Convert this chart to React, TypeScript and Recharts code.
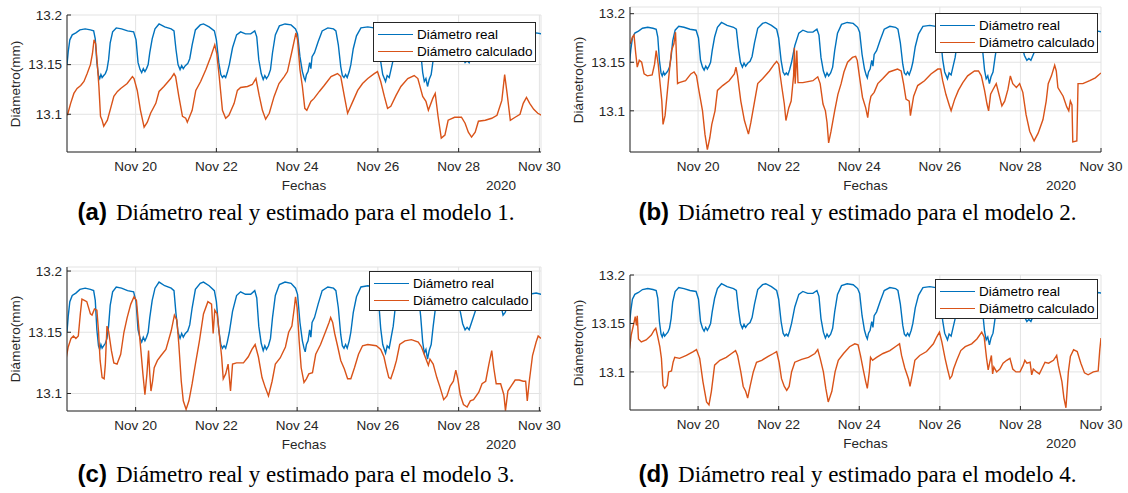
import React from "react";
import { LineChart, Line, XAxis, YAxis, CartesianGrid } from "recharts";

type Pt = [number, number];

// [día de noviembre 2020, diámetro en mm]
const diametroReal: Pt[] = [
  [18.30, 13.150], [18.33, 13.163], [18.37, 13.175], [18.43, 13.180], [18.52, 13.182], [18.62, 13.185],
  [18.75, 13.186], [18.88, 13.185], [18.96, 13.184], [19.00, 13.176], [19.04, 13.152], [19.08, 13.139],
  [19.11, 13.136], [19.14, 13.140], [19.17, 13.137], [19.21, 13.139], [19.25, 13.141], [19.29, 13.145],
  [19.33, 13.155], [19.37, 13.172], [19.43, 13.183], [19.52, 13.187], [19.65, 13.186], [19.80, 13.184],
  [19.95, 13.183], [20.01, 13.175], [20.06, 13.152], [20.11, 13.145], [20.15, 13.142], [20.19, 13.146],
  [20.23, 13.143], [20.27, 13.146], [20.31, 13.150], [20.35, 13.162], [20.41, 13.176], [20.48, 13.186],
  [20.58, 13.191], [20.72, 13.188], [20.88, 13.186], [20.95, 13.184], [21.00, 13.165], [21.05, 13.150],
  [21.10, 13.145], [21.14, 13.149], [21.18, 13.146], [21.23, 13.149], [21.29, 13.151], [21.34, 13.156],
  [21.40, 13.170], [21.48, 13.185], [21.60, 13.190], [21.68, 13.191], [21.82, 13.188], [21.95, 13.184],
  [22.00, 13.175], [22.06, 13.152], [22.11, 13.140], [22.15, 13.137], [22.19, 13.139], [22.23, 13.137],
  [22.27, 13.142], [22.32, 13.150], [22.40, 13.167], [22.50, 13.180], [22.60, 13.183], [22.72, 13.181],
  [22.85, 13.181], [22.95, 13.184], [23.00, 13.178], [23.05, 13.155], [23.11, 13.141], [23.16, 13.135],
  [23.20, 13.139], [23.24, 13.136], [23.29, 13.139], [23.34, 13.145], [23.39, 13.162], [23.46, 13.180],
  [23.56, 13.189], [23.70, 13.191], [23.85, 13.190], [23.96, 13.186], [24.01, 13.181], [24.07, 13.158],
  [24.13, 13.143], [24.17, 13.137], [24.20, 13.134], [24.23, 13.140], [24.27, 13.143], [24.31, 13.152],
  [24.34, 13.146], [24.37, 13.158], [24.43, 13.162], [24.52, 13.173], [24.62, 13.184], [24.76, 13.187],
  [24.90, 13.186], [24.96, 13.184], [25.02, 13.170], [25.08, 13.148], [25.12, 13.139], [25.16, 13.137],
  [25.20, 13.140], [25.24, 13.137], [25.29, 13.143], [25.33, 13.150], [25.39, 13.166], [25.47, 13.179],
  [25.58, 13.187], [25.75, 13.188], [25.90, 13.187], [25.98, 13.185], [26.02, 13.175], [26.07, 13.153],
  [26.12, 13.140], [26.16, 13.136], [26.19, 13.133], [26.23, 13.139], [26.28, 13.137], [26.33, 13.146],
  [26.38, 13.155], [26.43, 13.170], [26.52, 13.184], [26.70, 13.187], [26.90, 13.186], [27.00, 13.182],
  [27.06, 13.163], [27.11, 13.142], [27.15, 13.133], [27.19, 13.136], [27.23, 13.128], [27.27, 13.135],
  [27.32, 13.140], [27.37, 13.155], [27.43, 13.171], [27.55, 13.185], [27.80, 13.188], [27.97, 13.186],
  [28.04, 13.167], [28.10, 13.157], [28.16, 13.152], [28.21, 13.154], [28.26, 13.152], [28.33, 13.159],
  [28.42, 13.168], [28.55, 13.176], [28.75, 13.181], [28.98, 13.180], [29.05, 13.172], [29.10, 13.164],
  [29.15, 13.166], [29.22, 13.172], [29.35, 13.177], [29.55, 13.180], [29.75, 13.181], [29.92, 13.182],
  [30.05, 13.181],
];

const calculadoModelo1: Pt[] = [
  [18.31, 13.099], [18.39, 13.111], [18.47, 13.121], [18.55, 13.126], [18.64, 13.129], [18.72, 13.133],
  [18.80, 13.141], [18.88, 13.150], [18.93, 13.161], [18.97, 13.175], [19.01, 13.171], [19.05, 13.151],
  [19.09, 13.128], [19.13, 13.098], [19.17, 13.094], [19.21, 13.088], [19.30, 13.094], [19.38, 13.106],
  [19.46, 13.118], [19.55, 13.123], [19.63, 13.126], [19.79, 13.131], [19.92, 13.138], [19.96, 13.136],
  [20.04, 13.124], [20.12, 13.104], [20.21, 13.087], [20.29, 13.092], [20.37, 13.101], [20.50, 13.111],
  [20.58, 13.123], [20.70, 13.128], [20.87, 13.136], [20.95, 13.141], [20.99, 13.138], [21.07, 13.118],
  [21.16, 13.098], [21.24, 13.096], [21.28, 13.092], [21.40, 13.104], [21.49, 13.124], [21.61, 13.133],
  [21.74, 13.145], [21.86, 13.158], [21.96, 13.170], [22.01, 13.161], [22.07, 13.138], [22.15, 13.104],
  [22.23, 13.096], [22.31, 13.099], [22.44, 13.111], [22.52, 13.124], [22.60, 13.127], [22.77, 13.128],
  [22.89, 13.130], [22.98, 13.136], [23.06, 13.119], [23.14, 13.104], [23.22, 13.095], [23.31, 13.101],
  [23.43, 13.118], [23.55, 13.131], [23.68, 13.138], [23.76, 13.143], [23.88, 13.165], [23.97, 13.182],
  [24.01, 13.175], [24.07, 13.145], [24.13, 13.128], [24.19, 13.106], [24.24, 13.104], [24.34, 13.113],
  [24.42, 13.116], [24.55, 13.123], [24.67, 13.129], [24.84, 13.138], [25.00, 13.141], [25.08, 13.138],
  [25.17, 13.118], [25.25, 13.101], [25.38, 13.113], [25.50, 13.124], [25.62, 13.131], [25.75, 13.136],
  [25.91, 13.141], [25.99, 13.143], [26.07, 13.133], [26.16, 13.118], [26.24, 13.106], [26.32, 13.108],
  [26.45, 13.119], [26.57, 13.128], [26.74, 13.136], [26.90, 13.139], [26.99, 13.136], [27.11, 13.118],
  [27.19, 13.113], [27.25, 13.104], [27.36, 13.116], [27.42, 13.121], [27.49, 13.098], [27.57, 13.076],
  [27.66, 13.079], [27.74, 13.094], [27.90, 13.097], [28.07, 13.097], [28.16, 13.091], [28.24, 13.082],
  [28.32, 13.077], [28.41, 13.082], [28.49, 13.093], [28.66, 13.094], [28.82, 13.096], [28.95, 13.099],
  [29.07, 13.114], [29.14, 13.140], [29.20, 13.121], [29.28, 13.094], [29.40, 13.097], [29.52, 13.100],
  [29.60, 13.111], [29.68, 13.117], [29.76, 13.111], [29.86, 13.105], [29.96, 13.101], [30.05, 13.099],
];

const calculadoModelo2: Pt[] = [
  [18.32, 13.169], [18.37, 13.176], [18.41, 13.178], [18.45, 13.160], [18.49, 13.145], [18.54, 13.152],
  [18.60, 13.150], [18.66, 13.138], [18.74, 13.136], [18.86, 13.137], [18.92, 13.148], [18.96, 13.162],
  [19.01, 13.148], [19.05, 13.131], [19.10, 13.110], [19.13, 13.086], [19.18, 13.095], [19.24, 13.121],
  [19.28, 13.138], [19.34, 13.162], [19.40, 13.169], [19.44, 13.181], [19.49, 13.128], [19.53, 13.129],
  [19.69, 13.131], [19.82, 13.138], [19.90, 13.140], [19.96, 13.136], [20.02, 13.121], [20.11, 13.100],
  [20.17, 13.076], [20.23, 13.060], [20.29, 13.072], [20.34, 13.086], [20.42, 13.100], [20.48, 13.121],
  [20.61, 13.126], [20.77, 13.131], [20.90, 13.138], [20.94, 13.145], [20.98, 13.136], [21.06, 13.110],
  [21.15, 13.090], [21.20, 13.083], [21.25, 13.076], [21.31, 13.088], [21.39, 13.107], [21.48, 13.128],
  [21.60, 13.133], [21.77, 13.141], [21.89, 13.148], [21.95, 13.151], [22.00, 13.148], [22.08, 13.124],
  [22.14, 13.107], [22.18, 13.090], [22.25, 13.103], [22.31, 13.110], [22.37, 13.136], [22.39, 13.165],
  [22.41, 13.128], [22.45, 13.162], [22.48, 13.129], [22.60, 13.129], [22.85, 13.131], [22.97, 13.135],
  [23.03, 13.128], [23.10, 13.107], [23.16, 13.100], [23.20, 13.088], [23.24, 13.067], [23.30, 13.079],
  [23.39, 13.100], [23.47, 13.117], [23.55, 13.128], [23.62, 13.140], [23.71, 13.150], [23.83, 13.155],
  [23.91, 13.156], [23.95, 13.152], [24.02, 13.131], [24.08, 13.114], [24.16, 13.103], [24.21, 13.093],
  [24.25, 13.107], [24.29, 13.115], [24.37, 13.119], [24.46, 13.128], [24.58, 13.133], [24.74, 13.140],
  [24.95, 13.143], [25.04, 13.141], [25.10, 13.128], [25.16, 13.112], [25.24, 13.110], [25.27, 13.095],
  [25.35, 13.115], [25.45, 13.126], [25.62, 13.131], [25.78, 13.138], [25.95, 13.143], [26.02, 13.143],
  [26.07, 13.131], [26.15, 13.117], [26.24, 13.105], [26.28, 13.100], [26.37, 13.112], [26.46, 13.121],
  [26.57, 13.129], [26.69, 13.136], [26.86, 13.141], [26.96, 13.141], [27.03, 13.136], [27.11, 13.121],
  [27.17, 13.107], [27.21, 13.100], [27.26, 13.117], [27.32, 13.122], [27.40, 13.128], [27.48, 13.115],
  [27.54, 13.105], [27.61, 13.110], [27.69, 13.122], [27.75, 13.136], [27.81, 13.128], [27.90, 13.124],
  [27.98, 13.128], [28.06, 13.119], [28.14, 13.096], [28.23, 13.079], [28.34, 13.069], [28.44, 13.077],
  [28.56, 13.091], [28.64, 13.110], [28.69, 13.128], [28.77, 13.136], [28.85, 13.147], [28.89, 13.141],
  [28.93, 13.124], [29.06, 13.115], [29.15, 13.104], [29.20, 13.100], [29.24, 13.110], [29.28, 13.106],
  [29.30, 13.068], [29.40, 13.069], [29.43, 13.128], [29.55, 13.128], [29.72, 13.131], [29.86, 13.134],
  [30.00, 13.139],
];

const calculadoModelo3: Pt[] = [
  [18.27, 13.127], [18.33, 13.138], [18.40, 13.145], [18.46, 13.147], [18.52, 13.145], [18.58, 13.147],
  [18.63, 13.165], [18.67, 13.177], [18.73, 13.176], [18.79, 13.175], [18.88, 13.165], [18.92, 13.164],
  [18.98, 13.169], [19.04, 13.168], [19.08, 13.151], [19.12, 13.127], [19.17, 13.113], [19.22, 13.112],
  [19.25, 13.124], [19.29, 13.155], [19.33, 13.151], [19.40, 13.135], [19.46, 13.125], [19.54, 13.124],
  [19.63, 13.132], [19.71, 13.150], [19.79, 13.162], [19.88, 13.173], [19.96, 13.179], [20.02, 13.176],
  [20.07, 13.157], [20.13, 13.135], [20.18, 13.116], [20.23, 13.099], [20.28, 13.116], [20.32, 13.135],
  [20.35, 13.116], [20.38, 13.102], [20.42, 13.110], [20.46, 13.121], [20.54, 13.127], [20.63, 13.131],
  [20.75, 13.136], [20.88, 13.151], [20.96, 13.164], [21.02, 13.160], [21.07, 13.140], [21.13, 13.110],
  [21.18, 13.094], [21.25, 13.087], [21.32, 13.094], [21.40, 13.108], [21.48, 13.124], [21.58, 13.143],
  [21.68, 13.165], [21.79, 13.175], [21.88, 13.173], [21.92, 13.149], [21.96, 13.168], [22.02, 13.165],
  [22.07, 13.149], [22.13, 13.130], [22.17, 13.112], [22.23, 13.116], [22.29, 13.124], [22.35, 13.102],
  [22.40, 13.124], [22.50, 13.125], [22.67, 13.125], [22.79, 13.130], [22.88, 13.136], [22.96, 13.140],
  [23.04, 13.130], [23.13, 13.113], [23.21, 13.105], [23.29, 13.098], [23.38, 13.110], [23.46, 13.124],
  [23.58, 13.129], [23.71, 13.138], [23.79, 13.150], [23.87, 13.155], [23.93, 13.170], [23.96, 13.179],
  [24.00, 13.170], [24.05, 13.143], [24.10, 13.121], [24.17, 13.109], [24.23, 13.112], [24.29, 13.116],
  [24.38, 13.117], [24.46, 13.132], [24.58, 13.140], [24.71, 13.151], [24.79, 13.158], [24.83, 13.162],
  [24.88, 13.158], [24.93, 13.149], [25.00, 13.139], [25.08, 13.127], [25.17, 13.120], [25.25, 13.112],
  [25.33, 13.112], [25.42, 13.121], [25.52, 13.132], [25.62, 13.139], [25.75, 13.140], [25.96, 13.139],
  [26.07, 13.136], [26.15, 13.130], [26.21, 13.121], [26.27, 13.113], [26.32, 13.112], [26.40, 13.120],
  [26.46, 13.127], [26.54, 13.140], [26.67, 13.143], [26.83, 13.144], [27.00, 13.142], [27.08, 13.138],
  [27.17, 13.130], [27.25, 13.123], [27.29, 13.128], [27.37, 13.124], [27.46, 13.113], [27.54, 13.105],
  [27.63, 13.095], [27.71, 13.098], [27.79, 13.106], [27.87, 13.110], [27.93, 13.119], [27.98, 13.112],
  [28.04, 13.099], [28.12, 13.091], [28.21, 13.089], [28.29, 13.094], [28.37, 13.095], [28.50, 13.101],
  [28.58, 13.108], [28.67, 13.110], [28.75, 13.124], [28.82, 13.135], [28.87, 13.121], [28.93, 13.108],
  [29.04, 13.108], [29.12, 13.099], [29.16, 13.086], [29.22, 13.102], [29.30, 13.106], [29.40, 13.111],
  [29.50, 13.111], [29.60, 13.110], [29.66, 13.110], [29.70, 13.094], [29.75, 13.110], [29.83, 13.131],
  [29.92, 13.142], [29.97, 13.147], [30.04, 13.145],
];

const calculadoModelo4: Pt[] = [
  [18.30, 13.124], [18.34, 13.138], [18.41, 13.151], [18.44, 13.157], [18.47, 13.148], [18.49, 13.158],
  [18.52, 13.134], [18.59, 13.131], [18.71, 13.133], [18.84, 13.138], [18.91, 13.143], [18.95, 13.145],
  [18.99, 13.138], [19.05, 13.126], [19.09, 13.114], [19.13, 13.086], [19.17, 13.083], [19.23, 13.086],
  [19.27, 13.100], [19.34, 13.101], [19.38, 13.110], [19.42, 13.115], [19.54, 13.114], [19.71, 13.117],
  [19.88, 13.121], [19.96, 13.123], [20.04, 13.114], [20.12, 13.090], [20.21, 13.069], [20.27, 13.066],
  [20.33, 13.080], [20.41, 13.107], [20.54, 13.112], [20.70, 13.115], [20.83, 13.119], [20.93, 13.122],
  [20.98, 13.117], [21.06, 13.100], [21.12, 13.085], [21.18, 13.080], [21.23, 13.073], [21.29, 13.085],
  [21.37, 13.100], [21.45, 13.110], [21.58, 13.112], [21.74, 13.116], [21.87, 13.119], [21.95, 13.121],
  [22.01, 13.110], [22.07, 13.093], [22.14, 13.085], [22.20, 13.081], [22.26, 13.085], [22.32, 13.100],
  [22.40, 13.110], [22.57, 13.113], [22.74, 13.115], [22.90, 13.119], [22.97, 13.123], [23.03, 13.114],
  [23.11, 13.100], [23.17, 13.083], [23.23, 13.069], [23.32, 13.080], [23.40, 13.100], [23.48, 13.112],
  [23.61, 13.119], [23.76, 13.126], [23.89, 13.129], [23.97, 13.128], [24.03, 13.117], [24.10, 13.102],
  [24.16, 13.090], [24.20, 13.083], [24.25, 13.100], [24.28, 13.115], [24.33, 13.112], [24.43, 13.115],
  [24.59, 13.119], [24.76, 13.122], [24.93, 13.127], [25.00, 13.129], [25.05, 13.117], [25.13, 13.104],
  [25.22, 13.093], [25.26, 13.085], [25.33, 13.100], [25.38, 13.112], [25.50, 13.117], [25.67, 13.121],
  [25.84, 13.129], [25.92, 13.136], [25.99, 13.141], [26.05, 13.131], [26.13, 13.114], [26.19, 13.103],
  [26.25, 13.093], [26.30, 13.096], [26.34, 13.103], [26.42, 13.112], [26.52, 13.122], [26.63, 13.126],
  [26.79, 13.129], [26.92, 13.134], [27.04, 13.141], [27.10, 13.136], [27.16, 13.114], [27.20, 13.102],
  [27.24, 13.110], [27.28, 13.117], [27.31, 13.098], [27.34, 13.105], [27.41, 13.100], [27.49, 13.103],
  [27.57, 13.109], [27.66, 13.112], [27.74, 13.114], [27.81, 13.103], [27.89, 13.100], [27.99, 13.100],
  [28.07, 13.107], [28.11, 13.112], [28.16, 13.109], [28.24, 13.110], [28.28, 13.097], [28.32, 13.103],
  [28.40, 13.100], [28.47, 13.098], [28.53, 13.103], [28.61, 13.110], [28.70, 13.109], [28.82, 13.112],
  [28.90, 13.117], [28.94, 13.107], [29.03, 13.090], [29.08, 13.073], [29.13, 13.063], [29.19, 13.100],
  [29.24, 13.116], [29.32, 13.123], [29.41, 13.121], [29.50, 13.109], [29.59, 13.099], [29.68, 13.097],
  [29.81, 13.100], [29.93, 13.101], [29.97, 13.123], [30.00, 13.135],
];

const xTicks = [20, 22, 24, 26, 28, 30];
const yTicks = [13.1, 13.15, 13.2];
const serieNames = ["Diámetro real", "Diámetro calculado"];
const captionLetters = ["(a)", "(b)", "(c)", "(d)"];
const captionTexts = [
  "Diámetro real y estimado para el modelo 1.",
  "Diámetro real y estimado para el modelo 2.",
  "Diámetro real y estimado para el modelo 3.",
  "Diámetro real y estimado para el modelo 4.",
];

const BLUE = "#0072BD";
const ORANGE = "#D95319";
const AXIS = "#262626";
const SANS = "'Liberation Sans', Arial, Helvetica, sans-serif";
const SERIF = "'Liberation Serif', 'Times New Roman', serif";

const toRows = (pts: Pt[]) => pts.map(([t, v]) => ({ t, v }));

type PanelCfg = {
  calc: Pt[];
  plot: { x: number; y: number; w: number; h: number };
  xDomain: [number, number];
  yDomain: [number, number];
  legend: { x: number; y: number };
  captionY: number;
};

const panels: PanelCfg[] = [
  {
    calc: calculadoModelo1,
    plot: { x: 67, y: 15, w: 474, h: 137 },
    xDomain: [18.3, 30.04],
    yDomain: [13.062, 13.2],
    legend: { x: 373, y: 22 },
    captionY: 213,
  },
  {
    calc: calculadoModelo2,
    plot: { x: 630, y: 7, w: 471, h: 145 },
    xDomain: [18.31, 30.0],
    yDomain: [13.0576, 13.2069],
    legend: { x: 935, y: 13 },
    captionY: 213,
  },
  {
    calc: calculadoModelo3,
    plot: { x: 67, y: 267, w: 474, h: 144 },
    xDomain: [18.3, 30.04],
    yDomain: [13.0857, 13.2033],
    legend: { x: 369, y: 271 },
    captionY: 475,
  },
  {
    calc: calculadoModelo4,
    plot: { x: 630, y: 275, w: 471, h: 135 },
    xDomain: [18.31, 30.0],
    yDomain: [13.0607, 13.2],
    legend: { x: 935, y: 279 },
    captionY: 475,
  },
];

const tickStyle = { fill: AXIS, fontSize: 13.5, fontFamily: SANS };

function LegendBox({ x, y }: { x: number; y: number }) {
  return (
    <div
      style={{
        position: "absolute",
        left: x,
        top: y,
        width: 163,
        height: 40,
        boxSizing: "border-box",
        border: `1px solid ${AXIS}`,
        background: "#fff",
        fontFamily: SANS,
        fontSize: 13.5,
        color: "#000",
      }}
    >
      {serieNames.map((name, i) => (
        <div
          key={name}
          style={{ position: "absolute", left: 4, top: 3 + i * 17, height: 16, display: "flex", alignItems: "center" }}
        >
          <div style={{ width: 35, height: 0, borderTop: `1.5px solid ${i === 0 ? BLUE : ORANGE}`, marginRight: 4 }} />
          <span style={{ whiteSpace: "nowrap" }}>{name}</span>
        </div>
      ))}
    </div>
  );
}

function Panel({ cfg, idx }: { cfg: PanelCfg; idx: number }) {
  const { plot, xDomain, yDomain } = cfg;
  const cx = plot.x + plot.w / 2;
  const bottom = plot.y + plot.h;
  return (
    <>
      <div style={{ position: "absolute", left: plot.x - 70, top: plot.y - 10 }}>
        <LineChart width={plot.w + 95} height={plot.h + 50} margin={{ top: 10, right: 25, bottom: 10, left: 0 }}>
          <CartesianGrid stroke="#e3e3e3" />
          <XAxis
            dataKey="t"
            type="number"
            domain={xDomain}
            allowDataOverflow
            ticks={xTicks}
            interval={0}
            tickFormatter={(d: number) => `Nov ${d}`}
            height={30}
            tickSize={-4}
            tickMargin={13}
            stroke={AXIS}
            tick={tickStyle}
          />
          <XAxis
            xAxisId="top"
            orientation="top"
            dataKey="t"
            type="number"
            domain={xDomain}
            allowDataOverflow
            ticks={xTicks}
            height={0}
            tick={false}
            tickSize={-4}
            stroke={AXIS}
          />
          <YAxis
            type="number"
            domain={yDomain}
            allowDataOverflow
            ticks={yTicks}
            interval={0}
            tickFormatter={(v: number) => String(v)}
            width={70}
            tickSize={-4}
            tickMargin={9}
            stroke={AXIS}
            tick={tickStyle}
          />
          <YAxis
            yAxisId="right"
            orientation="right"
            type="number"
            domain={yDomain}
            allowDataOverflow
            ticks={yTicks}
            width={0}
            tick={false}
            tickSize={-4}
            stroke={AXIS}
          />
          <Line
            data={toRows(diametroReal)}
            dataKey="v"
            name={serieNames[0]}
            type="linear"
            stroke={BLUE}
            strokeWidth={1.4}
            dot={false}
            isAnimationActive={false}
          />
          <Line
            data={toRows(cfg.calc)}
            dataKey="v"
            name={serieNames[1]}
            type="linear"
            stroke={ORANGE}
            strokeWidth={1.4}
            dot={false}
            isAnimationActive={false}
          />
        </LineChart>
      </div>
      <LegendBox x={cfg.legend.x} y={cfg.legend.y} />
      {/* eje y */}
      <div
        style={{
          position: "absolute",
          left: plot.x - 52,
          top: plot.y + plot.h / 2,
          transform: "translate(-50%, -50%) rotate(-90deg)",
          fontFamily: SANS,
          fontSize: 13.5,
          color: AXIS,
          whiteSpace: "nowrap",
        }}
      >
        Diámetro(mm)
      </div>
      {/* eje x */}
      <div
        style={{
          position: "absolute",
          left: cx - 60,
          width: 120,
          top: bottom + 26,
          textAlign: "center",
          fontFamily: SANS,
          fontSize: 13.5,
          color: AXIS,
        }}
      >
        Fechas
      </div>
      <div
        style={{
          position: "absolute",
          left: plot.x + plot.w - 70,
          width: 60,
          top: bottom + 26,
          textAlign: "center",
          fontFamily: SANS,
          fontSize: 13.5,
          color: AXIS,
        }}
      >
        2020
      </div>
      <div
        style={{
          position: "absolute",
          left: cx - 308,
          width: 600,
          top: cfg.captionY - 15,
          textAlign: "center",
          color: "#000",
          whiteSpace: "nowrap",
          lineHeight: "28px",
        }}
      >
        <span style={{ fontFamily: "'Liberation Sans Narrow', 'Liberation Sans', Arial, sans-serif", fontWeight: 700, fontSize: 24 }}>
          {captionLetters[idx]}
        </span>
        <span style={{ fontFamily: SERIF, fontSize: 23, marginLeft: 9 }}>{captionTexts[idx]}</span>
      </div>
    </>
  );
}

export default function App() {
  return (
    <div style={{ position: "absolute", left: 0, top: 0, width: 1128, height: 493, background: "#fff", overflow: "hidden" }}>
      {panels.map((cfg, i) => (
        <Panel key={i} cfg={cfg} idx={i} />
      ))}
    </div>
  );
}
